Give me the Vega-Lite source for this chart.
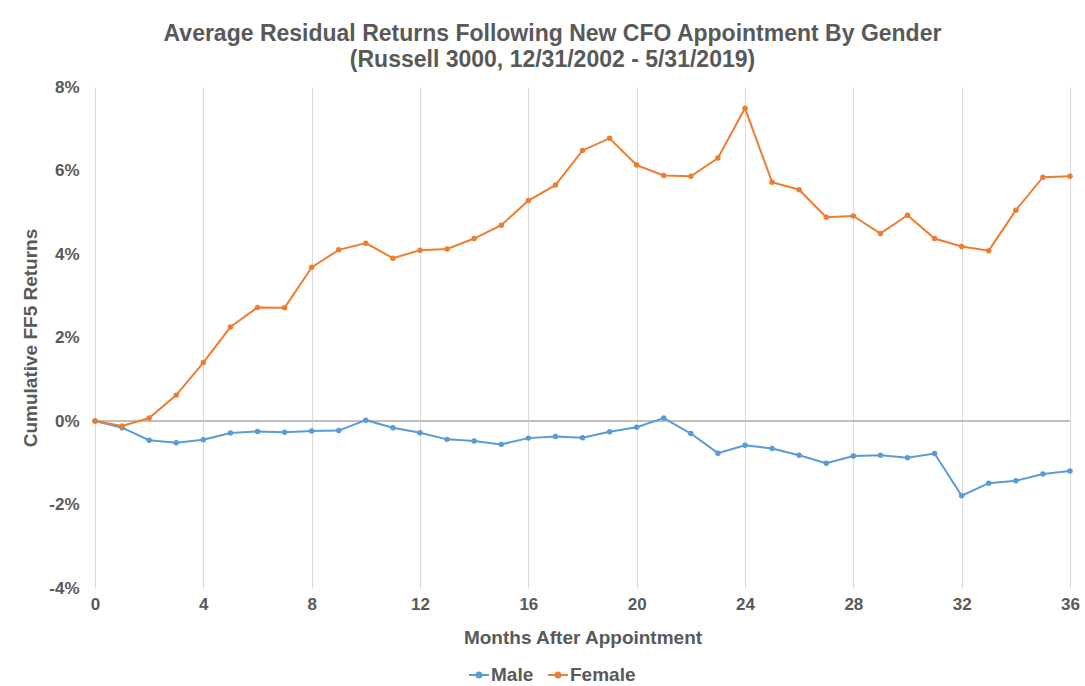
{
  "$schema": "https://vega.github.io/schema/vega-lite/v6.json",
  "autosize": "none",
  "padding": {"left": 95, "top": 87, "right": 15, "bottom": 98},
  "width": 975,
  "height": 501,
  "background": "white",
  "config": {
    "font": "Liberation Sans",
    "view": {"stroke": null},
    "axis": {
      "gridColor": "#d9d9d9",
      "gridWidth": 1,
      "domain": false,
      "ticks": false,
      "labelFont": "Liberation Sans",
      "labelFontSize": 17,
      "labelFontWeight": "bold",
      "labelColor": "#595959",
      "titleFont": "Liberation Sans",
      "titleFontSize": 19,
      "titleFontWeight": "bold",
      "titleColor": "#595959"
    }
  },
  "title": {
    "text": ["Average Residual Returns Following New CFO Appointment By Gender", "(Russell 3000, 12/31/2002 - 5/31/2019)"],
    "font": "Liberation Sans",
    "fontSize": 23,
    "fontWeight": "bold",
    "color": "#595959",
    "lineHeight": 26,
    "anchor": "middle",
    "dx": -30,
    "offset": 6
  },
  "data": {
    "values": [
      {"month": 0, "gender": "Male", "ret": 0.0},
      {"month": 1, "gender": "Male", "ret": -0.0016},
      {"month": 2, "gender": "Male", "ret": -0.0046},
      {"month": 3, "gender": "Male", "ret": -0.0052},
      {"month": 4, "gender": "Male", "ret": -0.0045},
      {"month": 5, "gender": "Male", "ret": -0.0029},
      {"month": 6, "gender": "Male", "ret": -0.0025},
      {"month": 7, "gender": "Male", "ret": -0.0027},
      {"month": 8, "gender": "Male", "ret": -0.0024},
      {"month": 9, "gender": "Male", "ret": -0.0023},
      {"month": 10, "gender": "Male", "ret": 0.0002},
      {"month": 11, "gender": "Male", "ret": -0.0016},
      {"month": 12, "gender": "Male", "ret": -0.0028},
      {"month": 13, "gender": "Male", "ret": -0.0044},
      {"month": 14, "gender": "Male", "ret": -0.0048},
      {"month": 15, "gender": "Male", "ret": -0.0056},
      {"month": 16, "gender": "Male", "ret": -0.0041},
      {"month": 17, "gender": "Male", "ret": -0.0037},
      {"month": 18, "gender": "Male", "ret": -0.0040},
      {"month": 19, "gender": "Male", "ret": -0.0026},
      {"month": 20, "gender": "Male", "ret": -0.0015},
      {"month": 21, "gender": "Male", "ret": 0.0007},
      {"month": 22, "gender": "Male", "ret": -0.0030},
      {"month": 23, "gender": "Male", "ret": -0.0077},
      {"month": 24, "gender": "Male", "ret": -0.0058},
      {"month": 25, "gender": "Male", "ret": -0.0066},
      {"month": 26, "gender": "Male", "ret": -0.0082},
      {"month": 27, "gender": "Male", "ret": -0.0101},
      {"month": 28, "gender": "Male", "ret": -0.0084},
      {"month": 29, "gender": "Male", "ret": -0.0082},
      {"month": 30, "gender": "Male", "ret": -0.0088},
      {"month": 31, "gender": "Male", "ret": -0.0078},
      {"month": 32, "gender": "Male", "ret": -0.0179},
      {"month": 33, "gender": "Male", "ret": -0.0149},
      {"month": 34, "gender": "Male", "ret": -0.0143},
      {"month": 35, "gender": "Male", "ret": -0.0127},
      {"month": 36, "gender": "Male", "ret": -0.0120},
      {"month": 0, "gender": "Female", "ret": 0.0},
      {"month": 1, "gender": "Female", "ret": -0.0012},
      {"month": 2, "gender": "Female", "ret": 0.0007},
      {"month": 3, "gender": "Female", "ret": 0.0062},
      {"month": 4, "gender": "Female", "ret": 0.0140},
      {"month": 5, "gender": "Female", "ret": 0.0225},
      {"month": 6, "gender": "Female", "ret": 0.0272},
      {"month": 7, "gender": "Female", "ret": 0.0271},
      {"month": 8, "gender": "Female", "ret": 0.0368},
      {"month": 9, "gender": "Female", "ret": 0.0410},
      {"month": 10, "gender": "Female", "ret": 0.0426},
      {"month": 11, "gender": "Female", "ret": 0.0390},
      {"month": 12, "gender": "Female", "ret": 0.0409},
      {"month": 13, "gender": "Female", "ret": 0.0412},
      {"month": 14, "gender": "Female", "ret": 0.0437},
      {"month": 15, "gender": "Female", "ret": 0.0469},
      {"month": 16, "gender": "Female", "ret": 0.0528},
      {"month": 17, "gender": "Female", "ret": 0.0565},
      {"month": 18, "gender": "Female", "ret": 0.0648},
      {"month": 19, "gender": "Female", "ret": 0.0677},
      {"month": 20, "gender": "Female", "ret": 0.0613},
      {"month": 21, "gender": "Female", "ret": 0.0588},
      {"month": 22, "gender": "Female", "ret": 0.0586},
      {"month": 23, "gender": "Female", "ret": 0.0630},
      {"month": 24, "gender": "Female", "ret": 0.0749},
      {"month": 25, "gender": "Female", "ret": 0.0572},
      {"month": 26, "gender": "Female", "ret": 0.0554},
      {"month": 27, "gender": "Female", "ret": 0.0488},
      {"month": 28, "gender": "Female", "ret": 0.0491},
      {"month": 29, "gender": "Female", "ret": 0.0449},
      {"month": 30, "gender": "Female", "ret": 0.0493},
      {"month": 31, "gender": "Female", "ret": 0.0437},
      {"month": 32, "gender": "Female", "ret": 0.0418},
      {"month": 33, "gender": "Female", "ret": 0.0408},
      {"month": 34, "gender": "Female", "ret": 0.0505},
      {"month": 35, "gender": "Female", "ret": 0.0584},
      {"month": 36, "gender": "Female", "ret": 0.0586}
    ]
  },
  "layer": [
    {
      "mark": {"type": "rule", "color": "#bfbfbf", "strokeWidth": 1},
      "encoding": {"y": {"datum": 0}}
    },
    {
      "mark": {"type": "line", "strokeWidth": 2, "point": {"filled": true, "size": 30}},
      "encoding": {
        "x": {
          "field": "month",
          "type": "quantitative",
          "scale": {"domain": [0, 36], "nice": false},
          "axis": {"values": [0, 4, 8, 12, 16, 20, 24, 28, 32, 36], "title": "Months After Appointment", "labelFlush": false, "labelPadding": 8, "titlePadding": 16}
        },
        "y": {
          "field": "ret",
          "type": "quantitative",
          "scale": {"domain": [-0.04, 0.08], "nice": false},
          "axis": {"values": [-0.04, -0.02, 0, 0.02, 0.04, 0.06, 0.08], "format": ".0%", "labelExpr": "replace(datum.label, '−', '-')", "title": "Cumulative FF5 Returns", "labelFlush": false, "labelPadding": 16, "titlePadding": 8}
        },
        "color": {
          "field": "gender",
          "type": "nominal",
          "scale": {"domain": ["Male", "Female"], "range": ["#5B9BD5", "#ED7D31"]},
          "legend": {
            "title": null,
            "orient": "none",
            "legendX": 373,
            "legendY": 577,
            "direction": "horizontal",
            "labelFont": "Liberation Sans",
            "labelFontSize": 19,
            "labelFontWeight": "bold",
            "labelColor": "#595959",
            "labelOffset": 1,
            "symbolType": "M-1,0L1,0M0,-0.25A0.25,0.25 0 1,1 0,0.25A0.25,0.25 0 1,1 0,-0.25Z",
            "symbolSize": 400,
            "symbolStrokeWidth": 2,
            "columnPadding": 10
          }
        }
      }
    }
  ]
}
